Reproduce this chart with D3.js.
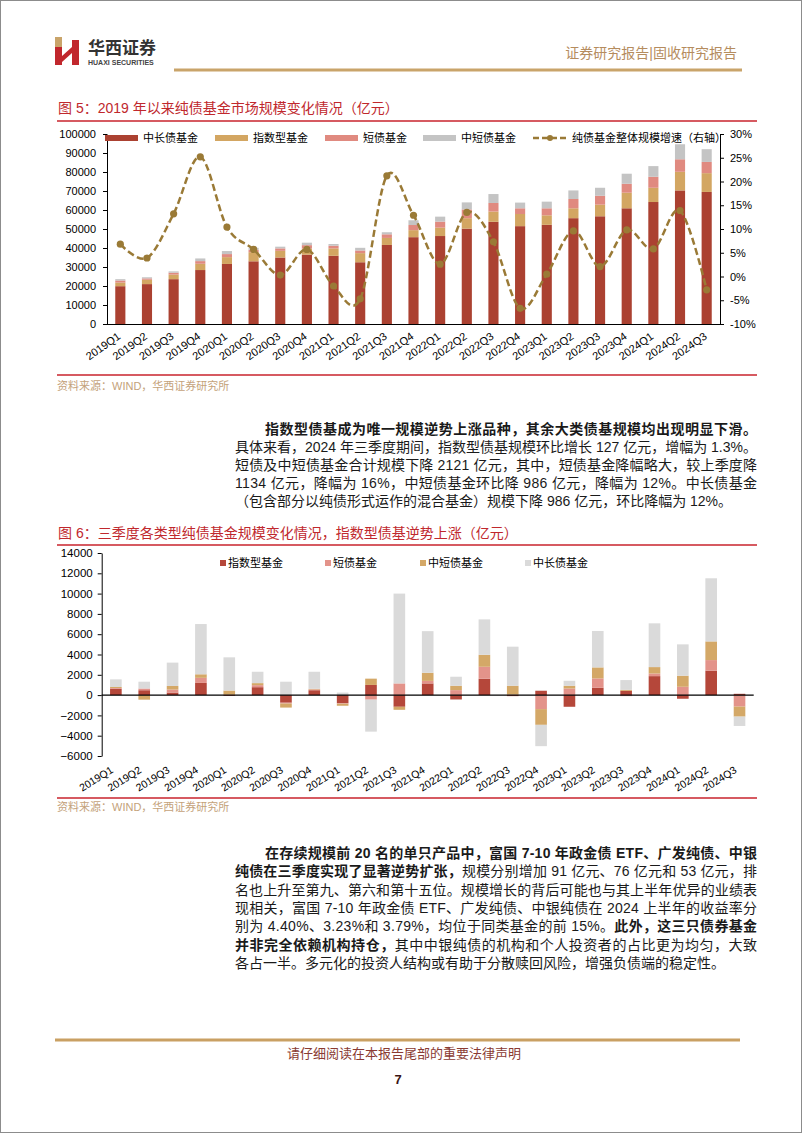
<!DOCTYPE html>
<html>
<head>
<meta charset="utf-8">
<script src="https://cdn.jsdelivr.net/npm/d3@7"></script>
<style>
  html, body { margin: 0; padding: 0; background: #fff; }
  svg { display: block; }
  text { font-family: "Liberation Sans", "Noto Sans CJK SC", sans-serif; }
</style>
</head>
<body>
<svg id="page" width="802" height="1133"></svg>
<script>
// ---- data: figure 5 (fund size, 亿元) ----
var quarters = ["2019Q1","2019Q2","2019Q3","2019Q4","2020Q1","2020Q2","2020Q3","2020Q4",
                "2021Q1","2021Q2","2021Q3","2021Q4","2022Q1","2022Q2","2022Q3","2022Q4",
                "2023Q1","2023Q2","2023Q3","2023Q4","2024Q1","2024Q2","2024Q3"];
var midLong   = [19900,21000,23600,28400,31600,33000,35000,36500,35900,32500,41600,45700,
                 46300,50200,53800,51500,52200,55700,56700,60900,64200,70300,69500];
var indexFund = [1900,2300,2400,3300,3600,4800,3500,3200,3900,4800,3700,3700,
                 4400,5500,5400,6400,5000,5200,6100,8200,7500,9800,9900];
var shortFund = [1100,700,1000,1400,1600,1300,1300,1800,1400,1400,1900,2700,
                 3200,4600,4500,3000,3700,4900,4700,4700,5800,6600,5900];
var midShort  = [700,600,700,1400,1600,1000,900,1300,900,1400,1100,2500,
                 2600,3700,4700,3000,3500,4500,4200,5300,5600,7900,6700];
var growth    = [6.8,3.9,13.2,25.2,10.4,5.7,0.3,5.7,-2.0,-4.7,21.2,12.9,
                 2.6,13.5,7.3,-6.7,0.5,9.6,2.1,9.8,5.8,13.9,-2.8];
var leftTicks1  = [0,10000,20000,30000,40000,50000,60000,70000,80000,90000,100000];
var rightTicks1 = [-10,-5,0,5,10,15,20,25,30];

// ---- data: figure 6 (quarterly change, 亿元) ----
var chgIndex    = [620,480,250,1200,-80,780,-750,480,-800,1000,-1150,1150,
                   -430,1610,-100,430,-1150,720,420,1870,-360,2400,127];
var chgShort    = [80,170,300,500,30,200,-80,80,-50,-450,1150,250,
                   490,1180,50,-1380,650,920,-100,260,820,1050,-1134];
var chgMidShort = [100,-450,350,350,420,200,-400,60,-200,620,-300,800,
                   430,1180,870,-1550,270,1090,100,630,1090,1840,-986];
var chgMidLong  = [750,670,2300,4950,3270,1120,1320,1680,250,-3150,8850,4100,
                   890,3490,3850,-2100,490,3590,960,4310,3090,6220,-920];
var ticks2 = [-6000,-4000,-2000,0,2000,4000,6000,8000,10000,12000,14000];

var svg = d3.select("#page");

// page frame
svg.append("rect").attr("x", 0.5).attr("y", 0.5).attr("width", 801).attr("height", 1132)
  .attr("fill", "none").attr("stroke", "#8c8c8c");

// ---- header ----
var logo = svg.append("g");
logo.append("path").attr("d", "M55,37H62V47H55Z").attr("fill", "#c9a46a");
logo.append("path").attr("d", "M55,47H62V65H55Z").attr("fill", "#c1272d");
logo.append("path").attr("d", "M62,56L72,47L72,53L62,62Z").attr("fill", "#c1272d");
logo.append("path").attr("d", "M72,40H79V65H72Z").attr("fill", "#c1272d");
svg.append("text").attr("x", 88).attr("y", 54).attr("font-size", 17).attr("font-weight", "bold")
  .attr("fill", "#333").text("华西证券");
svg.append("text").attr("x", 88).attr("y", 65).attr("font-size", 7).attr("font-weight", "bold")
  .attr("fill", "#444").text("HUAXI SECURITIES");
svg.append("text").attr("x", 737).attr("y", 58).attr("font-size", 14).attr("text-anchor", "end")
  .attr("fill", "#b58c5e").text("证券研究报告|固收研究报告");
svg.append("line").attr("x1", 174).attr("x2", 742).attr("y1", 70).attr("y2", 70)
  .attr("stroke", "#c9a46a").attr("stroke-width", 3);

// figure title + rules
function figTitle(y, label) {
  svg.append("text").attr("x", 58).attr("y", y).attr("font-size", 14).attr("fill", "#c0282d").text(label);
}
function redRule(y) {
  svg.append("line").attr("x1", 57).attr("x2", 757).attr("y1", y).attr("y2", y)
    .attr("stroke", "#c8232c").attr("stroke-width", 1.5);
}
function source(y) {
  svg.append("text").attr("x", 57).attr("y", y).attr("font-size", 11).attr("fill", "#c4a27a")
    .text("资料来源：WIND，华西证券研究所");
}

// ================= Figure 5 =================
figTitle(113, "图 5：2019 年以来纯债基金市场规模变化情况（亿元）");
redRule(121);

var x1 = d3.scaleBand().domain(quarters).range([107, 720]).paddingInner(0.62).paddingOuter(0.31);
var y1 = d3.scaleLinear().domain([0, 100000]).range([324, 134]);
var yr1 = d3.scaleLinear().domain([-10, 30]).range([324, 134]);

var colors1 = { midLong: "#ab4131", index: "#d3a662", short: "#e08a80", midShort: "#c4c4c4" };
var rows1 = quarters.map(function(q, i) {
  return { q: q, midLong: midLong[i], index: indexFund[i], short: shortFund[i], midShort: midShort[i] };
});
var stack1 = d3.stack().keys(["midLong", "index", "short", "midShort"])(rows1);

var g1 = svg.append("g");
g1.selectAll("g.series").data(stack1).join("g").attr("class", "series")
  .attr("fill", function(d) { return colors1[d.key]; })
  .selectAll("rect").data(function(d) { return d; }).join("rect")
    .attr("x", function(d) { return x1(d.data.q); })
    .attr("width", x1.bandwidth())
    .attr("y", function(d) { return y1(d[1]); })
    .attr("height", function(d) { return y1(d[0]) - y1(d[1]); });

// axes
var axL1 = g1.append("g").attr("transform", "translate(107,0)")
  .call(d3.axisLeft(y1).tickValues(leftTicks1).tickSize(4).tickSizeOuter(0).tickPadding(7).tickFormat(d3.format("d")));
var axR1 = g1.append("g").attr("transform", "translate(720,0)")
  .call(d3.axisRight(yr1).tickValues(rightTicks1).tickSize(4).tickSizeOuter(0).tickPadding(6)
    .tickFormat(function(d) { return d + "%"; }));
[axL1, axR1].forEach(function(a) {
  a.selectAll("text").attr("font-size", 11).attr("fill", "#000")
    .attr("font-family", "Liberation Sans, sans-serif");
  a.selectAll("path,line").attr("stroke", "#000");
});
g1.append("line").attr("x1", 107).attr("x2", 720).attr("y1", 324.5).attr("y2", 324.5).attr("stroke", "#000");

g1.selectAll("text.xl").data(quarters).join("text").attr("class", "xl")
  .attr("transform", function(d) { return "translate(" + (x1(d) + x1.bandwidth() / 2 + 1) + ",338) rotate(-35)"; })
  .attr("text-anchor", "end").attr("font-size", 11).attr("fill", "#000").text(function(d) { return d; });

// growth line (right axis)
var lineColor = "#9a7a36";
var line1 = d3.line()
  .x(function(d, i) { return x1(quarters[i]) + x1.bandwidth() / 2; })
  .y(function(d) { return yr1(d); })
  .curve(d3.curveCatmullRom.alpha(0));
g1.append("path").datum(growth).attr("d", line1).attr("fill", "none")
  .attr("stroke", lineColor).attr("stroke-width", 2.5).attr("stroke-dasharray", "7,3.5");
g1.selectAll("circle.dot").data(growth).join("circle").attr("class", "dot")
  .attr("cx", function(d, i) { return x1(quarters[i]) + x1.bandwidth() / 2; })
  .attr("cy", function(d) { return yr1(d); })
  .attr("r", 3.6).attr("fill", lineColor);

// legend
var leg1 = [
  { name: "中长债基金", key: "midLong", x: 105 },
  { name: "指数型基金", key: "index", x: 215 },
  { name: "短债基金", key: "short", x: 325 },
  { name: "中短债基金", key: "midShort", x: 423 }
];
leg1.forEach(function(l) {
  g1.append("rect").attr("x", l.x).attr("y", 135).attr("width", 33).attr("height", 6).attr("fill", colors1[l.key]);
  g1.append("text").attr("x", l.x + 38).attr("y", 142).attr("font-size", 11).attr("fill", "#000").text(l.name);
});
g1.append("line").attr("x1", 533).attr("x2", 568).attr("y1", 138).attr("y2", 138)
  .attr("stroke", lineColor).attr("stroke-width", 2.5).attr("stroke-dasharray", "6,3");
g1.append("circle").attr("cx", 550).attr("cy", 138).attr("r", 3).attr("fill", lineColor);
g1.append("text").attr("x", 572).attr("y", 142).attr("font-size", 11).attr("fill", "#000")
  .text("纯债基金整体规模增速（右轴）");

redRule(375);
source(390);

// ---- body text helper: justified lines ----
function bodyLine(x, y, width, parts) {
  var t = svg.append("text").attr("x", x).attr("y", y).attr("font-size", 14).attr("fill", "#1a1a1a");
  parts.forEach(function(p) {
    t.append("tspan").attr("font-weight", p[1] ? "bold" : "normal").text(p[0]);
  });
  if (width) {
    var len = t.node().getComputedTextLength();
    var n = t.text().length;
    t.style("letter-spacing", ((width - len) / (n - 1)) + "px");
  }
}

var p1 = [
  [265, 433.5, true, [["指数型债基成为唯一规模逆势上涨品种，其余大类债基规模均出现明显下滑。", 1]]],
  [235, 451.5, true, [["具体来看，2024 年三季度期间，指数型债基规模环比增长 127 亿元，增幅为 1.3%。", 0]]],
  [235, 469.5, true, [["短债及中短债基金合计规模下降 2121 亿元，其中，短债基金降幅略大，较上季度降", 0]]],
  [235, 487.5, true, [["1134 亿元，降幅为 16%，中短债基金环比降 986 亿元，降幅为 12%。中长债基金", 0]]],
  [235, 505.5, false, [["（包含部分以纯债形式运作的混合基金）规模下降 986 亿元，环比降幅为 12%。", 0]]]
];
p1.forEach(function(l) { bodyLine(l[0], l[1], l[2] ? 757 - l[0] : 0, l[3]); });

// ================= Figure 6 =================
figTitle(538, "图 6：三季度各类型纯债基金规模变化情况，指数型债基逆势上涨（亿元）");
redRule(545);

var x2 = d3.scaleBand().domain(quarters).range([101.7, 753.7]).paddingInner(0.59).paddingOuter(0.295);
var y2 = d3.scaleLinear().domain([-6000, 14000]).range([756, 553]);
var colors2 = { idx: "#b5473a", sht: "#e3938a", mst: "#d4a867", mlg: "#dadada" };
var rows2 = quarters.map(function(q, i) {
  return { q: q, idx: chgIndex[i], sht: chgShort[i], mst: chgMidShort[i], mlg: chgMidLong[i] };
});
var stack2 = d3.stack().keys(["idx", "sht", "mst", "mlg"]).offset(d3.stackOffsetDiverging)(rows2);

var g2 = svg.append("g");
g2.selectAll("g.series").data(stack2).join("g").attr("class", "series")
  .attr("fill", function(d) { return colors2[d.key]; })
  .selectAll("rect").data(function(d) { return d; }).join("rect")
    .attr("x", function(d) { return x2(d.data.q); })
    .attr("width", x2.bandwidth())
    .attr("y", function(d) { return y2(Math.max(d[0], d[1])); })
    .attr("height", function(d) { return Math.abs(y2(d[0]) - y2(d[1])); });

var axL2 = g2.append("g").attr("transform", "translate(101.7,0)")
  .call(d3.axisLeft(y2).tickValues(ticks2).tickSize(4).tickSizeOuter(0).tickPadding(5).tickFormat(d3.format("d")));
axL2.selectAll("text").attr("font-size", 11.5).attr("fill", "#000").attr("font-family", "Liberation Sans, sans-serif");
axL2.selectAll("path,line").attr("stroke", "#000");
g2.append("line").attr("x1", 101.7).attr("x2", 753.7).attr("y1", y2(0)).attr("y2", y2(0))
  .attr("stroke", "#000").attr("stroke-width", 1.3);

g2.selectAll("text.xl").data(quarters).join("text").attr("class", "xl")
  .attr("transform", function(d) { return "translate(" + (x2(d) + x2.bandwidth() / 2 - 2) + ",772) rotate(-32)"; })
  .attr("text-anchor", "end").attr("font-size", 10.5).attr("fill", "#000").text(function(d) { return d; });

var leg2 = [
  { name: "指数型基金", key: "idx", x: 220 },
  { name: "短债基金", key: "sht", x: 325 },
  { name: "中短债基金", key: "mst", x: 420 },
  { name: "中长债基金", key: "mlg", x: 525 }
];
leg2.forEach(function(l) {
  g2.append("rect").attr("x", l.x).attr("y", 560).attr("width", 6).attr("height", 6).attr("fill", colors2[l.key]);
  g2.append("text").attr("x", l.x + 8).attr("y", 567).attr("font-size", 11).attr("fill", "#000").text(l.name);
});

redRule(798);
source(811);

var p2 = [
  [265, 858, true, [["在存续规模前 20 名的单只产品中，富国 7-10 年政金债 ETF、广发纯债、中银", 1]]],
  [235, 876.3, true, [["纯债在三季度实现了显著逆势扩张，", 1], ["规模分别增加 91 亿元、76 亿元和 53 亿元，排", 0]]],
  [235, 894.6, true, [["名也上升至第九、第六和第十五位。规模增长的背后可能也与其上半年优异的业绩表", 0]]],
  [235, 912.9, true, [["现相关，富国 7-10 年政金债 ETF、广发纯债、中银纯债在 2024 上半年的收益率分", 0]]],
  [235, 931.2, true, [["别为 4.40%、3.23%和 3.79%，均位于同类基金的前 15%。", 0], ["此外，这三只债券基金", 1]]],
  [235, 949.5, true, [["并非完全依赖机构持仓，", 1], ["其中中银纯债的机构和个人投资者的占比更为均匀，大致", 0]]],
  [235, 967.8, false, [["各占一半。多元化的投资人结构或有助于分散赎回风险，增强负债端的稳定性。", 0]]]
];
p2.forEach(function(l) { bodyLine(l[0], l[1], l[2] ? 757 - l[0] : 0, l[3]); });

// ---- footer ----
svg.append("line").attr("x1", 55).attr("x2", 740).attr("y1", 1040).attr("y2", 1040)
  .attr("stroke", "#c9a063").attr("stroke-width", 3);
svg.append("text").attr("x", 404).attr("y", 1058).attr("font-size", 13).attr("text-anchor", "middle")
  .attr("fill", "#8a3a32").text("请仔细阅读在本报告尾部的重要法律声明");
svg.append("text").attr("x", 398).attr("y", 1084).attr("font-size", 13).attr("font-weight", "bold")
  .attr("text-anchor", "middle").attr("fill", "#3a1414").text("7");
</script>
</body>
</html>
